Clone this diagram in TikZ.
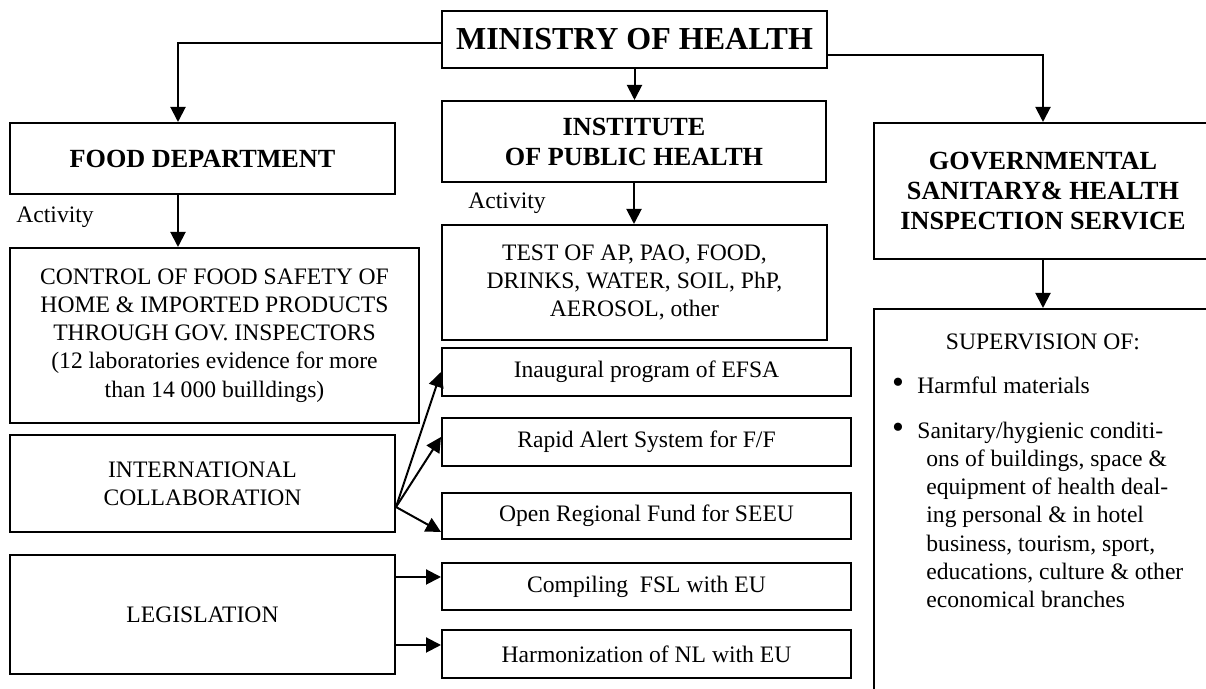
\documentclass[tikz,border=0pt]{standalone}
\usepackage{fontspec}
\setmainfont{Liberation Serif}
\usetikzlibrary{positioning, arrows.meta}

\begin{document}
\begin{tikzpicture}[
    x=0.5pt, y=0.5pt,
    every node/.style={font=\fontsize{11.8}{14.1}\selectfont},
    box/.style={rectangle, draw, line width=1pt, align=center, inner sep=2pt, minimum width=#1},
    box/.default=192.5pt,
    head/.style={box=#1, font=\fontsize{13.1}{15}\selectfont\bfseries},
    head/.default=192.5pt,
    prog/.style={box=204.5pt},
    plain/.style={inner sep=0pt},
    bullet/.style={inner sep=0pt, font=\fontsize{17}{17}\selectfont},
    arr/.style={-{Triangle[length=7.5pt, width=7.5pt]}, line width=1pt},
]
    \useasboundingbox (0,0) rectangle (1206,689);
    \fill[white] (0,0) rectangle (1206,689);
    \clip (0,0) rectangle (1206,689);

    % --- nodes (absolute coordinates, top-to-bottom) ---
    \node[head, minimum height=28.5pt, font=\fontsize{16}{19}\selectfont\bfseries] (min) at (634.5, 649.5) {MINISTRY OF HEALTH};

    \node[head, minimum height=35.5pt] (food) at (202.5, 530.5) {FOOD DEPARTMENT};
    \node[head=192pt, minimum height=40.5pt] (inst) at (634, 547.5) {INSTITUTE\\OF PUBLIC HEALTH};
    % the inspection service boxes run off the right edge
    \node[head=169pt, minimum height=68pt] (gov) at (1043, 498)
        {GOVERNMENTAL\\SANITARY\& HEALTH\\INSPECTION SERVICE};

    \node[plain, anchor=west] (actfood) at (16, 472) {Activity};
    \node[plain, anchor=west] (actinst) at (468, 486) {Activity};

    \node[box=204.5pt, minimum height=87.5pt] (ctrl) at (214.5, 353.5)
        {CONTROL OF FOOD SAFETY OF\\
         HOME \& IMPORTED PRODUCTS\\
         THROUGH GOV. INSPECTORS\\
         (12 laboratories evidence for more\\
         than 14 000 builldings)};
    \node[box, minimum height=57.5pt] (test) at (634.5, 406.5)
        {TEST OF AP, PAO, FOOD,\\DRINKS, WATER, SOIL, PhP,\\AEROSOL, other};

    \node[box, minimum height=48.5pt] (intcol) at (202.5, 205.5) {INTERNATIONAL\\COLLABORATION};
    \node[box, minimum height=59.5pt] (legis) at (202.5, 74.5) {LEGISLATION};

    % programmes on the middle column
    \node[prog, minimum height=24pt]   (efsa)  at (646.5, 317)   {Inaugural program of EFSA};
    \node[prog, minimum height=24pt]   (rapid) at (646.5, 247)   {Rapid Alert System for F/F};
    \node[prog, minimum height=23pt]   (fund)  at (646.5, 173)   {Open Regional Fund for SEEU};
    \node[prog, minimum height=23.5pt] (comp)  at (646.5, 102.5) {Compiling\ \ FSL with EU};
    \node[prog, minimum height=24pt]   (harm)  at (646.5, 35)    {Harmonization of NL with EU};

    % supervision box, open at the bottom edge
    \node[box=169pt, minimum height=195.5pt] (sup) at (1043, 184.5) {};
    \node[plain] (suptitle) at (1043, 347) {SUPERVISION OF:};
    \node[bullet] (bulA) at (898, 303) {\textbullet};
    \node[plain, anchor=west] (harmful) at (917, 304) {Harmful materials};
    \node[bullet] (bulB) at (898, 258) {\textbullet};
    \node[plain, anchor=north west, align=left] (sanit) at (926, 267.5)
        {\hspace*{-4.5pt}Sanitary/hygienic conditi-\\
         ons of buildings, space \&\\
         equipment of health deal-\\
         ing personal \& in hotel\\
         business, tourism, sport,\\
         educations, culture \& other\\
         economical branches};

    % --- arrows ---
    \draw[arr] ([yshift=-2pt]min.west) -| ([xshift=-12.25pt]food.north);
    \draw[arr] ([yshift=-7.75pt]min.east) -| (gov.north);
    \draw[arr] (min.south) -- (min.south |- inst.north);

    \coordinate (fdrop) at ([xshift=-12.25pt]food.south);
    \draw[arr] (fdrop) -- (fdrop |- ctrl.north);
    \draw[arr] (inst.south) -- (inst.south |- test.north);
    \draw[arr] (gov.south) -- (sup.north);

    % international collaboration fans out to three programmes
    \coordinate (icout) at ([yshift=-11.75pt]intcol.east);
    \draw[arr] (icout) -- (efsa.west);
    \draw[arr] (icout) -- ([yshift=2.5pt]rapid.west);
    \draw[arr] (icout) -- ([yshift=-8pt]fund.west);

    % legislation -> EU alignment
    \coordinate (compin) at ([yshift=4.75pt]comp.west);
    \coordinate (harmin) at ([yshift=4.5pt]harm.west);
    \draw[arr] (compin -| legis.east) -- (compin);
    \draw[arr] (harmin -| legis.east) -- (harmin);
\end{tikzpicture}
\end{document}
